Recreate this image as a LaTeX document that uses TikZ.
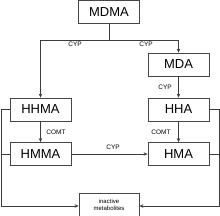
\documentclass[tikz,border=0pt]{standalone}
\usepackage{fontspec}
\setmainfont{Liberation Sans}
\usepackage{xcolor}
\definecolor{boxline}{RGB}{70,70,70}
\definecolor{wire}{RGB}{60,60,60}
\usetikzlibrary{arrows.meta,positioning,calc}
\tikzset{
  drug/.style={draw=boxline,line width=0.8pt,fill=white,minimum width=61pt,%
    minimum height=23pt,inner sep=0pt,font=\fontsize{13}{14}\selectfont},
  sink/.style={draw=boxline,line width=0.8pt,fill=white,minimum width=60pt,%
    minimum height=23pt,inner sep=0pt,align=center,%
    font=\fontsize{6}{7}\selectfont},
  enz/.style={font=\fontsize{6.5}{7}\selectfont,inner sep=0pt},
  flow/.style={-{Stealth[length=4pt,width=3.5pt]},line width=0.7pt,draw=wire},
  wire/.style={line width=0.7pt,draw=wire},
}
\begin{document}
\begin{tikzpicture}[x=1pt,y=-1pt]
\useasboundingbox (0,0) rectangle (220,216);
% metabolites
\node[drug] (mdma) at (109,12) {MDMA};
\node[drug] (mda) at (178.5,64.5) {MDA};
\node[drug] (hhma) at (40.5,109.5) {HHMA};
\node[drug] (hha) at (178.5,109.5) {HHA};
\node[drug] (hmma) at (40.5,154) {HMMA};
\node[drug] (hma) at (178.5,154) {HMA};
\node[sink] (inact) at (109,204.5) {inactive\\metabolites};
% demethylenation
\coordinate (fork) at (109,40);
\draw[wire] (mdma) -- (fork);
\draw[flow] (fork) -| (hhma);
\draw[flow] (fork) -| (mda);
\node[enz] at (75,44) {CYP};
\node[enz] at (146,44) {CYP};
\draw[flow] (mda) -- (hha);
\node[enz] at (165,87) {CYP};
% methylation
\draw[flow] (hhma) -- (hmma);
\node[enz] at (56,132) {COMT};
\draw[flow] (hha) -- (hma);
\node[enz] at (161,132) {COMT};
\draw[flow] (hmma) -- (hma);
\node[enz] at (113,147) {CYP};
% conjugation
\coordinate (lbus) at (1,206);
\coordinate (rbus) at (219,206);
\draw[wire] (hhma.west) -- (hhma.west -| lbus);
\draw[wire] (hmma.west) -- (hmma.west -| lbus);
\draw[flow] (hhma.west -| lbus) -- (lbus) -- (inact.west |- lbus);
\draw[wire] (hha.east) -- (hha.east -| rbus);
\draw[wire] (hma.east) -- (hma.east -| rbus);
\draw[flow] (hha.east -| rbus) -- (rbus) -- (inact.east |- rbus);
\end{tikzpicture}
\end{document}
